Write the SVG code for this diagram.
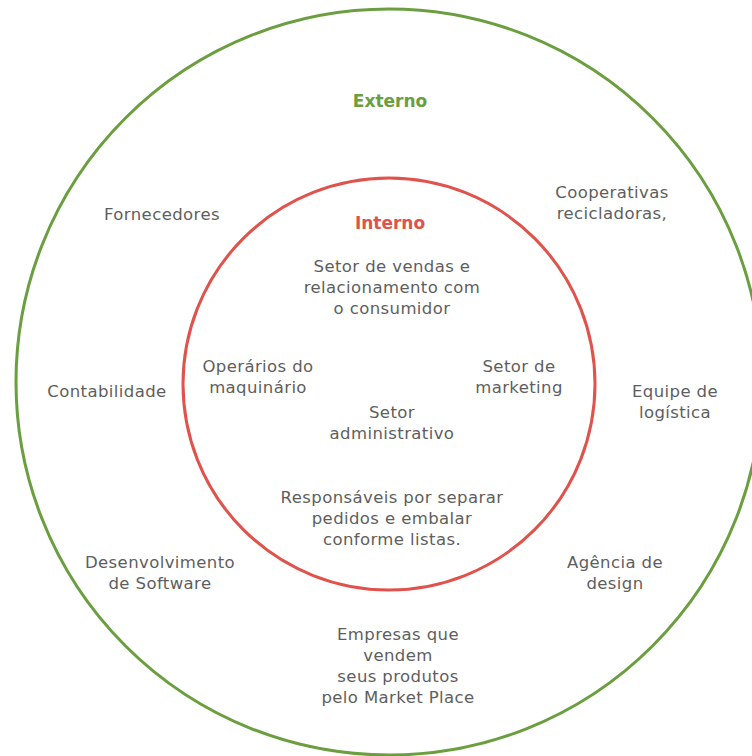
<svg xmlns="http://www.w3.org/2000/svg" width="752" height="756" viewBox="0 0 752 756">
  <style>
    .lbl { font-family: "DejaVu Sans", "Open Sans", sans-serif; font-size: 16.5px; fill: #5e5e5e; text-anchor: middle; letter-spacing: 0.4px; }
    .ttl { font-family: "DejaVu Sans", "Open Sans", sans-serif; font-size: 17px; font-weight: 700; text-anchor: middle; }
    .ring { fill: none; stroke-width: 3; }
  </style>
  <rect width="752" height="756" fill="#ffffff"/>

  <!-- rings -->
  <g id="externo">
    <circle class="ring" cx="389" cy="382" r="373" stroke="#6a9e3f"/>
    <text class="ttl" x="390" y="107" fill="#6a9e3f">Externo</text>
  </g>
  <g id="interno">
    <circle class="ring" cx="389" cy="384" r="206" stroke="#e0524c"/>
    <text class="ttl" x="390" y="229" fill="#e0524c">Interno</text>
  </g>

  <!-- external parties -->
  <g id="fornecedores"><text class="lbl" x="162" y="220">Fornecedores</text></g>
  <g id="cooperativas">
    <text class="lbl" x="612" y="198">Cooperativas</text>
    <text class="lbl" x="612" y="219">recicladoras,</text>
  </g>
  <g id="contabilidade"><text class="lbl" x="107" y="397">Contabilidade</text></g>
  <g id="logistica">
    <text class="lbl" x="675" y="397">Equipe de</text>
    <text class="lbl" x="675" y="418">logística</text>
  </g>
  <g id="software">
    <text class="lbl" x="160" y="568">Desenvolvimento</text>
    <text class="lbl" x="160" y="589">de Software</text>
  </g>
  <g id="design">
    <text class="lbl" x="615" y="568">Agência de</text>
    <text class="lbl" x="615" y="589">design</text>
  </g>
  <g id="marketplace">
    <text class="lbl" x="398" y="640">Empresas que</text>
    <text class="lbl" x="398" y="661">vendem</text>
    <text class="lbl" x="398" y="682">seus produtos</text>
    <text class="lbl" x="398" y="703">pelo Market Place</text>
  </g>

  <!-- internal sectors -->
  <g id="vendas">
    <text class="lbl" x="392" y="272">Setor de vendas e</text>
    <text class="lbl" x="392" y="293">relacionamento com</text>
    <text class="lbl" x="392" y="314">o consumidor</text>
  </g>
  <g id="operarios">
    <text class="lbl" x="258" y="372">Operários do</text>
    <text class="lbl" x="258" y="393">maquinário</text>
  </g>
  <g id="marketing">
    <text class="lbl" x="519" y="372">Setor de</text>
    <text class="lbl" x="519" y="393">marketing</text>
  </g>
  <g id="administrativo">
    <text class="lbl" x="392" y="418">Setor</text>
    <text class="lbl" x="392" y="439">administrativo</text>
  </g>
  <g id="expedicao">
    <text class="lbl" x="392" y="503">Responsáveis por separar</text>
    <text class="lbl" x="392" y="524">pedidos e embalar</text>
    <text class="lbl" x="392" y="545">conforme listas.</text>
  </g>
</svg>
